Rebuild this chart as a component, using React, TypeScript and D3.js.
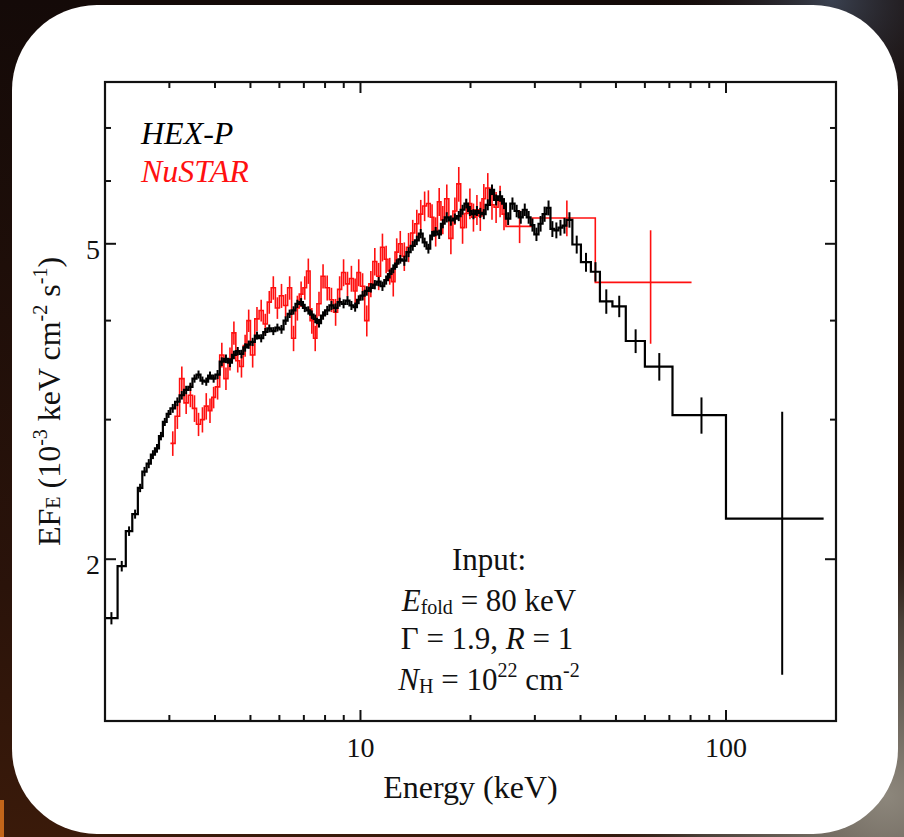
import React from 'react';
import * as d3 from 'd3';

const W = 904;
const H = 837;

// Axis domains and tick values
const xDomain = [2, 200];
const yDomain = [1.25, 8];
const xMajorTicks = [10, 100];
const xMinorTicks = [3, 4, 5, 6, 7, 8, 9, 20, 30, 40, 50, 60, 70, 80, 90];
const yMajorTicks = [2, 5];
const yMinorTicks = [3, 4, 6, 7];

// Shared fine energy grid (keV, bin edges)
const fineEdges = [
  2.53, 2.60, 2.67, 2.74, 2.81, 2.88, 2.95,
  3.02, 3.11, 3.20, 3.29, 3.38, 3.47, 3.56, 3.65, 3.74, 3.83, 3.92,
  4.01, 4.12, 4.23, 4.34, 4.45, 4.56, 4.67, 4.78, 4.89,
  5.00, 5.14, 5.28, 5.42, 5.56, 5.70, 5.85,
  6.00, 6.16, 6.32, 6.48, 6.64, 6.80, 6.96, 7.12, 7.28, 7.44, 7.60, 7.80,
  8.00, 8.22, 8.44, 8.66, 8.88, 9.10, 9.33, 9.56, 9.78,
  10.0, 10.27, 10.54, 10.81, 11.08, 11.35, 11.62, 11.89, 12.16, 12.43, 12.70,
  13.0, 13.36, 13.72, 14.08, 14.44, 14.80, 15.16, 15.52, 15.88, 16.24, 16.60,
  17.0, 17.45, 17.90, 18.35, 18.80, 19.25, 19.70, 20.15, 20.60, 21.05, 21.50,
  22.0, 22.6, 23.2, 23.8, 24.4,
  25.0, 25.7, 26.4, 27.1, 27.8, 28.5, 29.2, 29.9,
  30.7, 31.5, 32.3, 33.1, 33.9, 34.8, 35.7, 36.6,
  38.0,
];

// HEX-P: extra coarse edges below and above the fine grid
const hexLowEdges = [2.00, 2.165, 2.28, 2.375, 2.46];
const hexHighEdges = [40.1, 42.7, 45.2, 48.9, 53.2, 60.0, 71.4, 100, 185];

// HEX-P flux (1e-3 keV cm^-2 s^-1), one per bin
const hexFlux = [
  1.685, 1.96, 2.17, 2.28, 2.46,
  2.58, 2.64, 2.71, 2.76, 2.86, 2.98, 3.05,
  3.10, 3.16, 3.22, 3.27, 3.30, 3.38, 3.42, 3.36, 3.35, 3.41, 3.38,
  3.42, 3.55, 3.58, 3.54, 3.62, 3.66, 3.63, 3.70, 3.73,
  3.76, 3.83, 3.80, 3.87, 3.91, 3.88, 3.92,
  3.90, 4.00, 4.08, 4.12, 4.20, 4.22, 4.15, 4.12, 4.07, 4.02, 3.97, 4.06,
  4.12, 4.18, 4.15, 4.22, 4.20, 4.24, 4.18, 4.16, 4.25,
  4.30, 4.36, 4.40, 4.44, 4.48, 4.42, 4.50, 4.58, 4.65, 4.72, 4.78,
  4.76, 4.88, 4.97, 5.05, 5.15, 5.02, 4.93, 5.12, 5.18, 5.14, 5.30,
  5.40, 5.35, 5.38, 5.42, 5.52, 5.62, 5.50, 5.45, 5.50, 5.47, 5.45,
  5.60, 5.85, 5.68, 5.74, 5.62,
  5.38, 5.62, 5.50, 5.40, 5.52, 5.40, 5.28, 5.14,
  5.30, 5.45, 5.55, 5.22, 5.20, 5.24, 5.27, 5.36,
  4.99, 4.74, 4.61, 4.23, 4.17, 3.77, 3.50, 3.04, 2.25,
];

const hexErr = [
  0.03, 0.03, 0.03, 0.03, 0.03,
  0.035, 0.035, 0.035, 0.035, 0.035, 0.035, 0.035,
  0.04, 0.04, 0.04, 0.04, 0.04, 0.04, 0.04, 0.04, 0.04, 0.04, 0.04,
  0.045, 0.045, 0.045, 0.045, 0.045, 0.045, 0.045, 0.045, 0.045,
  0.045, 0.045, 0.045, 0.045, 0.045, 0.045, 0.045,
  0.05, 0.05, 0.05, 0.05, 0.05, 0.05, 0.05, 0.05, 0.05, 0.05, 0.05, 0.05,
  0.055, 0.055, 0.055, 0.055, 0.055, 0.055, 0.055, 0.055, 0.055,
  0.06, 0.06, 0.06, 0.06, 0.06, 0.06, 0.06, 0.06, 0.06, 0.06, 0.06,
  0.07, 0.07, 0.07, 0.07, 0.07, 0.07, 0.07, 0.07, 0.07, 0.07, 0.07,
  0.08, 0.08, 0.08, 0.08, 0.08, 0.08, 0.08, 0.08, 0.08, 0.08, 0.08,
  0.09, 0.09, 0.09, 0.09, 0.09,
  0.10, 0.10, 0.10, 0.10, 0.10, 0.10, 0.10, 0.10,
  0.12, 0.12, 0.12, 0.12, 0.12, 0.12, 0.12, 0.12,
  0.13, 0.13, 0.13, 0.15, 0.13, 0.13, 0.14, 0.16, 0.82,
];

// NuSTAR: fine grid from 3 to 25 keV plus coarse upper edges
const nuRange = [3.0, 25.0];
const nuHighEdges = [29.5, 43.9, 80.5];

const nuFlux = [
  2.80, 3.03, 3.38, 3.15, 3.22, 3.10, 2.96, 3.00, 3.12, 3.08, 3.20,
  3.30, 3.62, 3.38, 3.58, 3.86, 3.56, 3.50, 3.72, 4.00,
  3.62, 4.02, 4.12, 3.96, 4.22, 4.40, 4.15,
  4.30, 4.18, 4.40, 3.80, 4.15, 4.32, 4.40, 4.62, 4.00, 3.80, 4.20, 4.55,
  4.40, 4.25, 4.10, 4.38, 4.60, 4.45, 4.52, 4.36, 4.60,
  4.42, 4.00, 4.45, 4.75, 4.55, 4.95, 4.78, 4.62, 4.48, 4.88, 5.00,
  4.82, 4.95, 5.16, 5.30, 5.45, 5.58, 5.62, 5.40, 5.18, 5.65, 5.36,
  5.70, 5.08, 5.50, 5.95, 5.24, 5.46, 5.62, 5.40, 5.52, 5.42, 5.70,
  5.88, 5.60, 5.56, 5.66, 5.45,
  5.26, 5.39, 4.47,
];

const nuErr = [
  0.10, 0.11, 0.12, 0.10, 0.11, 0.12, 0.10, 0.11, 0.12, 0.11, 0.10,
  0.12, 0.13, 0.11, 0.12, 0.13, 0.12, 0.11, 0.12, 0.13,
  0.13, 0.14, 0.13, 0.12, 0.14, 0.15, 0.13,
  0.15, 0.14, 0.15, 0.14, 0.15, 0.16, 0.15, 0.17, 0.15, 0.14, 0.15, 0.16,
  0.16, 0.15, 0.16, 0.17, 0.18, 0.16, 0.17, 0.16, 0.18,
  0.17, 0.18, 0.17, 0.19, 0.18, 0.20, 0.19, 0.18, 0.19, 0.20, 0.19,
  0.20, 0.21, 0.20, 0.22, 0.23, 0.24, 0.22, 0.21, 0.22, 0.23, 0.22,
  0.24, 0.23, 0.22, 0.30, 0.24, 0.23, 0.25, 0.22, 0.24, 0.23, 0.25,
  0.26, 0.24, 0.25, 0.26, 0.25,
  0.25, 0.28, 0.73,
];

const seriesNames = ['HEX-P', 'NuSTAR'];
const seriesColors = ['#000000', '#ff1010'];

type Bin = { lo: number; hi: number; v: number; e: number };

function makeBins(edges: number[], flux: number[], err: number[]): Bin[] {
  const n = Math.min(edges.length - 1, flux.length, err.length);
  const out: Bin[] = [];
  for (let i = 0; i < n; i++) out.push({ lo: edges[i], hi: edges[i + 1], v: flux[i], e: err[i] });
  return out;
}

const SERIF = "'Liberation Serif', 'Times New Roman', Times, serif";

export default function App() {
  const left = 105, right = 836, top = 82, bottom = 721;
  const x = d3.scaleLog().domain(xDomain).range([left, right]);
  const y = d3.scaleLog().domain(yDomain).range([bottom, top]);

  const hexEdges = [...hexLowEdges, ...fineEdges, ...hexHighEdges];
  const nuEdges = [...fineEdges.filter((e) => e >= nuRange[0] && e <= nuRange[1]), ...nuHighEdges];
  const hexBins = makeBins(hexEdges, hexFlux, hexErr);
  const nuBins = makeBins(nuEdges, nuFlux, nuErr);

  const stepLine = d3
    .line<[number, number]>()
    .x((d) => x(d[0]))
    .y((d) => y(d[1]))
    .curve(d3.curveStepAfter);

  const stepPts = (b: Bin[]): [number, number][] => {
    const pts: [number, number][] = b.map((d) => [d.lo, d.v]);
    const last = b[b.length - 1];
    pts.push([last.hi, last.v]);
    return pts;
  };

  const errorBars = (b: Bin[], color: string, w: number) =>
    b.map((d, i) => {
      const xc = x((d.lo + d.hi) / 2);
      return (
        <line key={i} x1={xc} x2={xc} y1={y(d.v - d.e)} y2={y(d.v + d.e)} stroke={color} strokeWidth={w} />
      );
    });

  const majorLen = 11;
  const minorLen = 6;

  return (
    <svg width={W} height={H} style={{ position: 'absolute', left: 0, top: 0, display: 'block' }}>
      <defs>
        <radialGradient id="bgR" cx="0.98" cy="0.95" r="0.35">
          <stop offset="0" stopColor="#8d877c" />
          <stop offset="0.6" stopColor="#4a4038" />
          <stop offset="1" stopColor="#1a0f0b" stopOpacity="0" />
        </radialGradient>
        <radialGradient id="bgT" cx="0.92" cy="0.0" r="0.2">
          <stop offset="0" stopColor="#3a4150" />
          <stop offset="1" stopColor="#1a0f0b" stopOpacity="0" />
        </radialGradient>
        <linearGradient id="bgL" x1="0" y1="0" x2="0" y2="1">
          <stop offset="0" stopColor="#140a08" />
          <stop offset="0.7" stopColor="#2a130a" />
          <stop offset="1" stopColor="#3a1a0a" />
        </linearGradient>
        <clipPath id="plotClip">
          <rect x={left} y={top} width={right - left} height={bottom - top} />
        </clipPath>
      </defs>

      {/* background */}
      <rect x={0} y={0} width={W} height={H} fill="url(#bgL)" />
      <rect x={0} y={0} width={W} height={H} fill="url(#bgR)" />
      <rect x={0} y={0} width={W} height={H} fill="url(#bgT)" />
      <rect x={0} y={800} width={4} height={37} fill="#c2651a" />

      {/* white card */}
      <rect x={12} y={5} width={886} height={829} rx={85} ry={85} fill="#ffffff" />

      {/* data */}
      <g clipPath="url(#plotClip)" fill="none">
        <path d={stepLine(stepPts(nuBins)) || ''} stroke={seriesColors[1]} strokeWidth={1.6} />
        {errorBars(nuBins, seriesColors[1], 1.6)}
        <path d={stepLine(stepPts(hexBins)) || ''} stroke={seriesColors[0]} strokeWidth={2.2} />
        {errorBars(hexBins, seriesColors[0], 2)}
      </g>

      {/* frame */}
      <rect x={left} y={top} width={right - left} height={bottom - top} fill="none" stroke="#111" strokeWidth={2.2} />

      {/* x ticks */}
      {xMajorTicks.map((t) => (
        <g key={'xM' + t}>
          <line x1={x(t)} x2={x(t)} y1={bottom} y2={bottom - majorLen} stroke="#111" strokeWidth={2} />
          <line x1={x(t)} x2={x(t)} y1={top} y2={top + majorLen} stroke="#111" strokeWidth={2} />
          <text x={x(t)} y={757} textAnchor="middle" fontFamily={SERIF} fontSize={28} fill="#111">
            {t}
          </text>
        </g>
      ))}
      {xMinorTicks.map((t) => (
        <g key={'xm' + t}>
          <line x1={x(t)} x2={x(t)} y1={bottom} y2={bottom - minorLen} stroke="#111" strokeWidth={2} />
          <line x1={x(t)} x2={x(t)} y1={top} y2={top + minorLen} stroke="#111" strokeWidth={2} />
        </g>
      ))}

      {/* y ticks */}
      {yMajorTicks.map((t) => (
        <g key={'yM' + t}>
          <line x1={left} x2={left + majorLen} y1={y(t)} y2={y(t)} stroke="#111" strokeWidth={2} />
          <line x1={right} x2={right - majorLen} y1={y(t)} y2={y(t)} stroke="#111" strokeWidth={2} />
          <text x={100} y={y(t) + 15} textAnchor="end" fontFamily={SERIF} fontSize={28} fill="#111">
            {t}
          </text>
        </g>
      ))}
      {yMinorTicks.map((t) => (
        <g key={'ym' + t}>
          <line x1={left} x2={left + minorLen} y1={y(t)} y2={y(t)} stroke="#111" strokeWidth={2} />
          <line x1={right} x2={right - minorLen} y1={y(t)} y2={y(t)} stroke="#111" strokeWidth={2} />
        </g>
      ))}

      {/* axis labels */}
      <text x={(left + right) / 2} y={798} textAnchor="middle" fontFamily={SERIF} fontSize={32} fill="#111">
        Energy (keV)
      </text>
      <text
        transform={`translate(60, ${(top + bottom) / 2}) rotate(-90)`}
        textAnchor="middle"
        fontFamily={SERIF}
        fontSize={32}
        fill="#111"
      >
        EF
        <tspan fontSize={20}>E</tspan>
        <tspan> (10</tspan>
        <tspan fontSize={20} dy={-13}>-3</tspan>
        <tspan dy={13}> keV cm</tspan>
        <tspan fontSize={20} dy={-13}>-2</tspan>
        <tspan dy={13}> s</tspan>
        <tspan fontSize={20} dy={-13}>-1</tspan>
        <tspan dy={13}>)</tspan>
      </text>

      {/* legend */}
      <text x={141} y={144} fontFamily={SERIF} fontStyle="italic" fontSize={32} fill={seriesColors[0]}>
        {seriesNames[0]}
      </text>
      <text x={141} y={182} fontFamily={SERIF} fontStyle="italic" fontSize={32} fill={seriesColors[1]}>
        {seriesNames[1]}
      </text>

      {/* input parameters */}
      <g fontFamily={SERIF} fontSize={31} fill="#111" textAnchor="middle">
        <text x={489} y={570}>Input:</text>
        <text x={489} y={611}>
          <tspan fontStyle="italic">E</tspan>
          <tspan fontSize={20} dy={3}>fold</tspan>
          <tspan dy={-3}> = 80 keV</tspan>
        </text>
        <text x={487} y={649}>
          <tspan>Γ = 1.9, </tspan>
          <tspan fontStyle="italic">R</tspan>
          <tspan> = 1</tspan>
        </text>
        <text x={489} y={690}>
          <tspan fontStyle="italic">N</tspan>
          <tspan fontSize={20} dy={3}>H</tspan>
          <tspan dy={-3}> = 10</tspan>
          <tspan fontSize={20} dy={-13}>22</tspan>
          <tspan dy={13}> cm</tspan>
          <tspan fontSize={20} dy={-13}>-2</tspan>
        </text>
      </g>
    </svg>
  );
}
